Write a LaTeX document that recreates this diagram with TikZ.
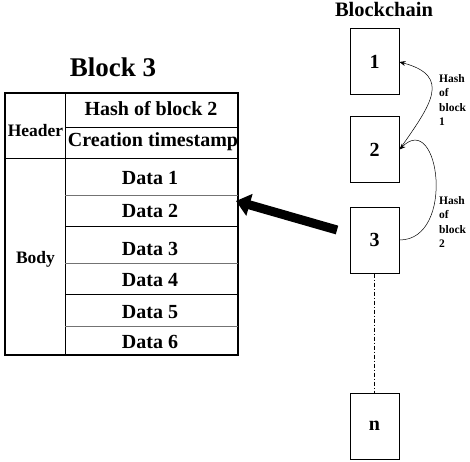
\documentclass[tikz,border=0pt]{standalone}
\usepackage{fontspec}
\setmainfont{Liberation Serif}
\usetikzlibrary{arrows.meta,positioning}
\tikzset{
  blk/.style={draw,line width=1pt,minimum width=49pt,minimum height=66pt,inner sep=0pt,font=\fontsize{20}{24}\selectfont\bfseries},
  cell/.style={anchor=base,inner sep=0pt,font=\fontsize{20}{24}\selectfont\bfseries},
  side/.style={anchor=base,inner sep=0pt,font=\fontsize{17.5}{20}\selectfont\bfseries},
  thinrule/.style={line width=0.5pt,black!55},
  thickrule/.style={line width=0.9pt},
  hashlbl/.style={align=left,anchor=west,inner sep=0pt,font=\fontsize{11.5}{14.5}\selectfont\bfseries},
  hashto/.style={line width=0.5pt,-{Stealth[length=6pt,width=5pt]}}
}
\begin{document}
\begin{tikzpicture}[x=1pt,y=1pt]
  \useasboundingbox (0,0) rectangle (470,461);
  \node[anchor=base,inner sep=0pt,font=\fontsize{27}{30}\selectfont\bfseries] (title3) at (113,384) {Block 3};
  \draw[line width=1.1pt] (5,106) rectangle (238,368);
  \draw[thickrule] (65,106) -- (65,368);
  \draw[thickrule] (5,303) -- (238,303);
  \draw[thickrule] (65,334) -- (238,334);
  \foreach \y/\s in {266/thinrule,235/thickrule,198/thinrule,167/thickrule,135/thinrule}
    \draw[\s] (65,\y) -- (238,\y);
  \node[cell] (hash) at (151,345) {Hash of block 2};
  \node[cell] (stamp) at (153,314) {Creation timestamp};
  \node[side] (header) at (35.5,324) {Header};
  \node[side] (body) at (35.5,198) {Body};
  \foreach \i/\y in {1/277,2/244,3/206,4/175,5/143,6/113}
    \node[cell] (data\i) at (150,\y) {Data \i};
  \node[anchor=base,inner sep=0pt,font=\fontsize{20.5}{24}\selectfont\bfseries] (chain) at (384,444) {Blockchain};
  \node[blk] (b1) at (374.5,399) {1};
  \node[blk] (b2) at (374.5,311.5) {2};
  \node[blk] (b3) at (374.5,221) {3};
  \node[blk] (bn) at (374.5,35) {n};
  \draw[line width=0.9pt,dash pattern=on 4pt off 2pt on 1pt off 2pt] (b3.south) -- (bn.north);
  \draw[hashto] (b2.east) to[out=55,in=-15,looseness=1.6] (b1.east);
  \draw[hashto] (b3.east) to[out=0,in=45,looseness=1.6] (b2.east);
  \node[hashlbl] (h1) at (439,361) {Hash\\of\\block\\1};
  \node[hashlbl] (h2) at (439,239) {Hash\\of\\block\\2};
  \coordinate (tail) at (337,231);
  \coordinate (tip) at (236,260);
  \draw[line width=9pt,-{Triangle[length=14pt,width=22pt]}] (tail) -- (tip);
\end{tikzpicture}
\end{document}
